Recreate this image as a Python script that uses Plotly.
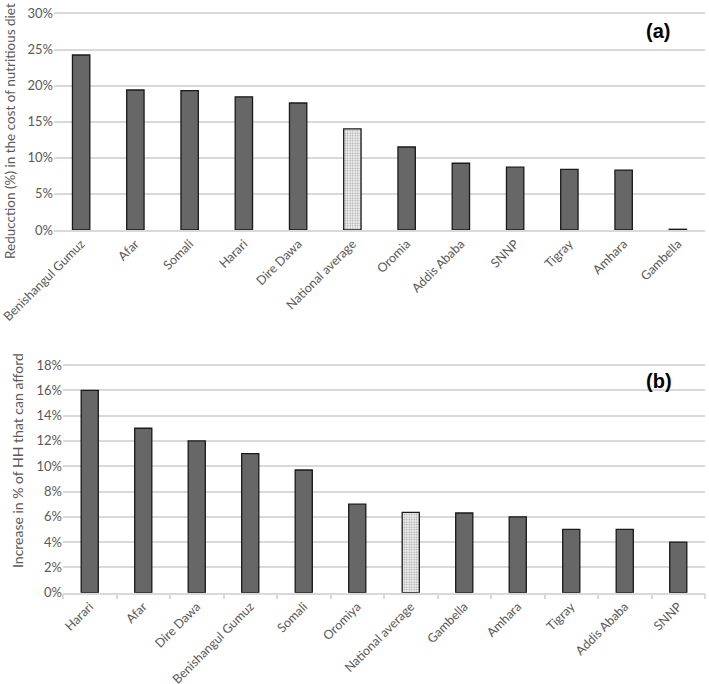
import plotly.graph_objects as go

cats_a = ["Benishangul Gumuz", "Afar", "Somali", "Harari", "Dire Dawa", "National average",
          "Oromia", "Addis Ababa", "SNNP", "Tigray", "Amhara", "Gambella"]
vals_a = [24.25, 19.4, 19.3, 18.45, 17.6, 14.0, 11.5, 9.25, 8.7, 8.4, 8.3, 0.1]

cats_b = ["Harari", "Afar", "Dire Dawa", "Benishangul Gumuz", "Somali", "Oromiya",
          "National average", "Gambella", "Amhara", "Tigray", "Addis Ababa", "SNNP"]
vals_b = [16.0, 13.0, 12.0, 11.0, 9.7, 7.0, 6.35, 6.3, 6.0, 5.0, 5.0, 4.0]

ticks_a = [0, 5, 10, 15, 20, 25, 30]
ticks_b = [0, 2, 4, 6, 8, 10, 12, 14, 16, 18]

FONT = "Lato"
TXT = "#595959"
GRID = "#d9d9d9"
BAR = "#676767"

W, H = 709, 684


def px(x):
    return x / W


def py(y):
    return 1 - y / H


def bar_trace(cats, vals, xa, ya):
    colors = ["#f2f2f2" if c == "National average" else BAR for c in cats]
    shapes = ["." if c == "National average" else "" for c in cats]
    return go.Bar(
        x=cats, y=[v / 100 for v in vals], xaxis=xa, yaxis=ya, width=0.32,
        marker=dict(color=colors, line=dict(color="#1a1a1a", width=1.3),
                    pattern=dict(shape=shapes, fgcolor="#8c8c8c", bgcolor="#f4f4f4",
                                 size=2.5, solidity=0.3)),
        showlegend=False, hoverinfo="x+y")


# range tops slightly above last tick so the top gridline is drawn
RA, RB = 0.302, 0.1812
top_a = 230 - 216.5 * RA / 0.30
top_b = 592.7 - 227.7 * RB / 0.18

fig = go.Figure()
fig.add_trace(bar_trace(cats_a, vals_a, "x", "y"))
fig.add_trace(bar_trace(cats_b, vals_b, "x2", "y2"))

common_x = dict(tickangle=-45, automargin=False, showgrid=False, showline=True,
                linecolor=GRID, linewidth=1.5, ticklabeloverflow="allow",
                tickfont=dict(size=12.5, color=TXT, family=FONT))
common_y = dict(automargin=False, showgrid=True, gridcolor=GRID, gridwidth=1.5,
                zeroline=False, ticks="", ticklabeloverflow="allow",
                tickfont=dict(size=13, color=TXT, family=FONT))

fig.update_layout(
    width=W, height=H, margin=dict(l=0, r=0, t=0, b=0, autoexpand=False),
    paper_bgcolor="white", plot_bgcolor="white",
    font=dict(family=FONT, color=TXT, size=12),
    xaxis=dict(domain=[px(54), px(705)], anchor="y", ticks="", **common_x),
    yaxis=dict(domain=[py(230), py(top_a)], anchor="x", range=[0, RA],
               tickvals=[t / 100 for t in ticks_a],
               ticktext=[f"{t}%" for t in ticks_a], **common_y),
    xaxis2=dict(domain=[px(63), px(705)], anchor="y2", ticks="outside",
                tickson="boundaries", ticklen=5, tickcolor=GRID, tickwidth=1.5,
                **common_x),
    yaxis2=dict(domain=[py(592.7), py(top_b)], anchor="x2", range=[0, RB],
                tickvals=[t / 100 for t in ticks_b],
                ticktext=[f"{t}%" for t in ticks_b], **common_y),
    annotations=[
        dict(text="Reducction (%) in the cost of nutritious diet", textangle=-90,
             x=px(10), y=py(131), xref="paper", yref="paper", showarrow=False,
             xanchor="center", yanchor="middle",
             font=dict(size=13.5, color=TXT, family=FONT)),
        dict(text="Increase in % of HH that can afford", textangle=-90,
             x=px(18), y=py(461), xref="paper", yref="paper", showarrow=False,
             xanchor="center", yanchor="middle",
             font=dict(size=14, color=TXT, family=FONT)),
        dict(text="<b>(a)</b>", x=px(658), y=py(31), xref="paper", yref="paper",
             showarrow=False, xanchor="center", yanchor="middle",
             font=dict(size=20, color="black", family="Liberation Sans")),
        dict(text="<b>(b)</b>", x=px(659), y=py(381), xref="paper", yref="paper",
             showarrow=False, xanchor="center", yanchor="middle",
             font=dict(size=20, color="black", family="Liberation Sans")),
    ],
)

fig.write_html("out.html", config={"displayModeBar": False},
               post_script="document.body.style.margin='0';")
